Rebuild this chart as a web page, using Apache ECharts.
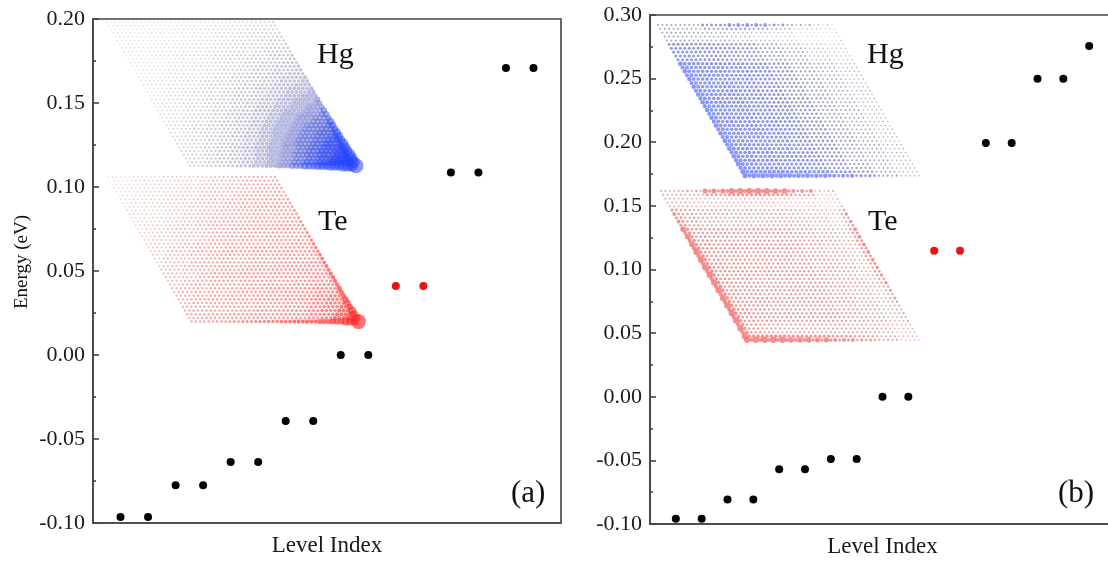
<!DOCTYPE html>
<html><head><meta charset="utf-8">
<script src="https://cdn.jsdelivr.net/npm/echarts@6/dist/echarts.min.js"></script>
<style>html,body{margin:0;padding:0;background:#fff}#c{width:1108px;height:563px}</style>
</head><body><div id="c"></div>
<script>
// ---------- main data (energy levels, eV) ----------
const levelsA = [-0.0965,-0.0965,-0.0776,-0.0776,-0.0637,-0.0637,-0.0393,-0.0393,0,0,0.0411,0.0411,0.1086,0.1086,0.1708,0.1708];
const levelsB = [-0.0959,-0.0959,-0.0807,-0.0807,-0.0569,-0.0569,-0.0490,-0.0490,0,0,0.1148,0.1148,0.1994,0.1994,0.2500,0.2500,0.2756];
const redLevelsA = [11, 12];   // level indices drawn in red
const redLevelsB = [11, 12];
const xMaxA = 17, xMaxB = 18;
const yRangeA = [-0.10, 0.20], yRangeB = [-0.10, 0.30];
const axisNameX = 'Level Index', axisNameY = 'Energy (eV)';
const panelLabels = ['(a)', '(b)'];
const sublattices = ['Hg', 'Te'];

const N = 40; // sites per rhombus edge
// (a) corner states: dot diameter vs distance from bottom-right corner (bins of 3 sites)
const hgA_byDist = [9, 8, 7.2, 6.4, 5.7, 5.0, 4.4, 3.9, 3.4, 3.0, 2.7, 2.4, 2.2, 2.0, 1.8, 1.7, 1.6, 1.5, 1.4];
const teA_byDist = [5, 4, 3.5, 3.2, 3.0, 2.9, 2.8, 2.8, 2.7, 2.7, 2.6, 2.6, 2.5, 2.4, 2.3, 2.2, 2.0, 1.9, 1.8, 1.7, 1.6, 1.5, 1.4];
const hgA_edgeBoost = [1.3, 1.25, 1.2, 1.15, 1.1, 1.05, 1];
const teA_edgeBoost = [1.6, 1.5, 1.45, 1.4, 1.35, 1.3, 1.25, 1.2, 1.15, 1.1, 1.05, 1];
const cornerSize = 15;
// (b) edge states: interior by column, edges by row/column (bins of 5 sites)
const hgB = {
  interiorByCol: [3.6, 3.4, 3.2, 3.0, 2.6, 2.2, 1.8, 1.5],
  interiorRowScale: [0.55, 0.85, 1, 1, 1, 1, 1, 1],
  leftByRow: [1.5, 3, 4.5, 4.6, 4.6, 4.6, 4.8, 5],
  bottomByCol: [5, 5, 4.8, 4.5, 4, 3.2, 2.2, 1.5],
  topByCol: [1.2, 1.6, 3, 3.8, 3.8, 3.2, 2.2, 1.5],
  rightByRow: [1.2, 1.4, 1.5, 1.5, 1.5, 1.5, 1.5, 1.5]
};
const teB = {
  interiorByCol: [2.7, 2.5, 2.4, 2.4, 2.4, 2.3, 2.1, 1.8],
  interiorRowScale: [0.7, 0.9, 1, 1, 1, 1, 1, 0.9],
  leftByRow: [2, 4, 5.5, 6, 6, 6, 6, 6],
  bottomByCol: [6, 6, 5.5, 5, 4, 3, 2.2, 1.5],
  topByCol: [1.5, 2.5, 5, 6, 6, 5.5, 4, 2],
  rightByRow: [2, 3.5, 4, 4, 3.5, 3, 2.2, 1.5]
};

const FONT = '"Liberation Serif","Times New Roman",serif';
const AX = '#444';

function look(arr, t) {
  const k = Math.min(arr.length - 1, Math.max(0, Math.floor(t * arr.length)));
  return arr[k];
}
function cornerModel(prof, boost) {
  return function (i, j) {
    const di = N - 1 - i, dj = N - 1 - j;
    const dx = di + 0.5 * dj, dy = 0.866 * dj;
    const d = Math.sqrt(dx * dx + dy * dy);
    if (d === 0) return cornerSize;
    const b = Math.floor((d - 0.001) / 3);
    let s = prof[Math.min(prof.length - 1, b)];
    if (i === N - 1 || j === N - 1) s *= boost[Math.min(boost.length - 1, b)];
    return s;
  };
}
function edgeModel(m) {
  return function (i, j) {
    const ti = i / N, tj = j / N;
    const base = look(m.interiorByCol, ti) * look(m.interiorRowScale, tj);
    let s = base;
    const edges = [];
    if (i <= 1) edges.push([i, look(m.leftByRow, tj), j]);
    if (i >= N - 2) edges.push([N - 1 - i, look(m.rightByRow, tj), j]);
    if (j <= 1) edges.push([j, look(m.topByCol, ti), i]);
    if (j >= N - 2) edges.push([N - 1 - j, look(m.bottomByCol, ti), i]);
    edges.forEach(function (e) {
      let v;
      if (e[0] === 0) v = (e[2] % 2 === 0) ? e[1] : 0.5 * (e[1] + base);
      else v = base + 0.35 * (e[1] - base);
      s = Math.max(s, v);
    });
    return s;
  };
}
function latticeData(sizeFn, lo, hi, sMin, sMax) {
  const out = [];
  for (let j = 0; j < N; j++) for (let i = 0; i < N; i++) {
    const s = sizeFn(i, j);
    const t = Math.max(0, Math.min(1, (s - sMin) / (sMax - sMin)));
    const c = [0, 1, 2].map(k => Math.round(lo[k] + (hi[k] - lo[k]) * t));
    const a = lo[3] + (hi[3] - lo[3]) * t;
    out.push({ value: [i + 0.5 * j, 0.866 * j], symbolSize: s,
      itemStyle: { color: 'rgba(' + c.join(',') + ',' + a.toFixed(2) + ')' } });
  }
  out.sort((p, q) => p.symbolSize - q.symbolSize);
  return out;
}

function splitLevels(levels, reds) {
  const black = [], red = [];
  levels.forEach(function (e, k) {
    (reds.indexOf(k + 1) >= 0 ? red : black).push([k + 1, e]);
  });
  return { black, red };
}
const A = splitLevels(levelsA, redLevelsA);
const B = splitLevels(levelsB, redLevelsB);

// inset boxes: [left, top, side]
const insets = [
  { box: [107, 22, 166], data: latticeData(cornerModel(hgA_byDist, hgA_edgeBoost), [160,145,135,0.4], [35,65,255,0.55], 1.4, 8) },
  { box: [108, 177, 167], data: latticeData(cornerModel(teA_byDist, teA_edgeBoost), [220,160,160,0.5], [255,40,40,0.65], 1.5, 4) },
  { box: [658, 25, 174], data: latticeData(edgeModel(hgB), [95,95,110,0.55], [95,115,255,0.75], 1.2, 4.2) },
  { box: [661, 191, 172], data: latticeData(edgeModel(teB), [200,110,110,0.6], [245,90,90,0.7], 1.5, 5) }
];

const chart = echarts.init(document.getElementById('c'));
const lineStyle = { color: AX, width: 1.6 };
function mainY(gi, r) {
  return {
    gridIndex: gi, type: 'value', min: r[0], max: r[1], interval: 0.05,
    axisLine: { show: true, lineStyle },
    axisTick: { show: true, inside: true, length: 6, lineStyle },
    minorTick: { show: true, splitNumber: 2, length: 3, lineStyle },
    axisLabel: { formatter: v => v.toFixed(2), fontFamily: FONT, fontSize: 22, color: '#1a1a1a', margin: 8 },
    splitLine: { show: false }
  };
}
function mainX(gi, max) {
  return {
    gridIndex: gi, type: 'value', min: 0, max: max,
    axisLine: { show: true, onZero: false, lineStyle }, axisTick: { show: false },
    axisLabel: { show: false }, splitLine: { show: false },
    name: axisNameX, nameLocation: 'middle', nameGap: 11,
    nameTextStyle: { fontFamily: FONT, fontSize: 23, color: '#1a1a1a' }
  };
}
const grids = [
  { left: 93, top: 19, width: 468, height: 504, show: true, borderColor: AX, borderWidth: 1.6, outerBoundsMode: 'none', containLabel: false },
  { left: 650, top: 15, width: 465, height: 509, show: true, borderColor: AX, borderWidth: 1.6, outerBoundsMode: 'none', containLabel: false }
];
const xAxes = [mainX(0, xMaxA), mainX(1, xMaxB)];
const yAxes = [mainY(0, yRangeA), mainY(1, yRangeB)];
const series = [];
insets.forEach(function (ins, k) {
  const [l, t, side] = ins.box;
  grids.push({ left: l, top: t, width: side * 1.5, height: side * 0.866, outerBoundsMode: 'none' });
  xAxes.push({ gridIndex: k + 2, type: 'value', min: 0, max: 1.5 * (N - 1), show: false });
  yAxes.push({ gridIndex: k + 2, type: 'value', min: 0, max: 0.866 * (N - 1), inverse: true, show: false });
  series.push({ type: 'scatter', xAxisIndex: k + 2, yAxisIndex: k + 2, data: ins.data,
    symbol: 'circle', clip: false, silent: true, z: 1, animation: false, itemStyle: { opacity: 1 } });
});
[[A, 0], [B, 1]].forEach(function (p) {
  series.push({ type: 'scatter', xAxisIndex: p[1], yAxisIndex: p[1], data: p[0].black,
    symbolSize: 8, itemStyle: { color: '#000', opacity: 1 }, z: 5, animation: false });
  series.push({ type: 'scatter', xAxisIndex: p[1], yAxisIndex: p[1], data: p[0].red,
    symbolSize: 8, itemStyle: { color: '#ee1111', opacity: 1 }, z: 5, animation: false });
});

function txt(text, x, y, size, rot, align) {
  return { type: 'text', x: x, y: y, rotation: rot || 0, z: 10,
    style: { text: text, fontFamily: FONT, fontSize: size, fill: '#111',
      align: align || 'left', verticalAlign: 'middle', textAlign: align || 'left', textVerticalAlign: 'middle' } };
}
chart.setOption({
  animation: false,
  grid: grids, xAxis: xAxes, yAxis: yAxes, series: series,
  graphic: [
    txt(axisNameY, 22, 262, 19, Math.PI / 2, 'center'),
    txt(sublattices[0], 317, 55, 30), txt(sublattices[1], 318, 222, 30),
    txt(sublattices[0], 867, 55, 30), txt(sublattices[1], 868, 222, 30),
    txt(panelLabels[0], 511, 494, 31), txt(panelLabels[1], 1058, 494, 31)
  ]
});
</script></body></html>
